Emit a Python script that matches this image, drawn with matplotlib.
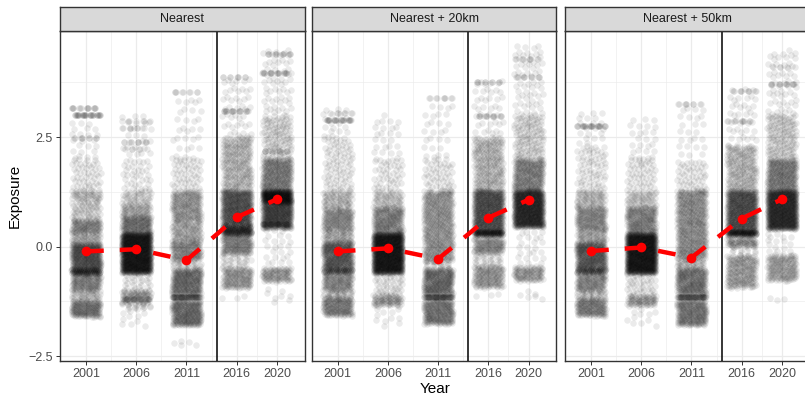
import numpy as np
import matplotlib
matplotlib.use("Agg")
import matplotlib.pyplot as plt

plt.rcParams['font.family'] = ['Liberation Sans', 'DejaVu Sans']

# ---------------- data ----------------
years = [2001, 2006, 2011, 2016, 2020]
panels = ["Nearest", "Nearest + 20km", "Nearest + 50km"]

# mean exposure per year (red points)
mean_nearest = [-0.11, -0.06, -0.31, 0.67, 1.08]
mean_20km = [-0.11, -0.04, -0.28, 0.66, 1.07]
mean_50km = [-0.10, -0.02, -0.25, 0.64, 1.08]

# point clouds: (y_low, y_high, number of points); y_low == y_high is a streak of
# points sharing one value
near_2001 = [(2.0, 2.9, 23), (1.28, 2.0, 50), (3.0, 3.0, 30), (3.17, 3.17, 15),
             (2.48, 2.48, 9), (1.05, 1.28, 43), (0.6, 1.05, 62), (0.3, 0.6, 104),
             (0.07, 0.3, 53), (-0.5, 0.07, 329), (-0.62, -0.5, 111), (-1.0, -0.62, 131),
             (-1.24, -1.0, 44), (-1.6, -1.24, 149)]
near_2006 = [(2.0, 3.0, 26), (1.28, 2.0, 37), (2.87, 2.87, 7), (2.7, 2.7, 7),
             (2.39, 2.39, 9), (2.22, 2.22, 6), (0.98, 1.28, 41), (0.7, 0.98, 65),
             (0.3, 0.7, 166), (-0.6, 0.3, 950), (-1.0, -0.6, 28), (-1.3, -1.0, 83),
             (-1.2, -1.2, 15), (-1.45, -1.3, 14), (-1.86, -1.45, 10)]
near_2011 = [(3.52, 3.52, 9), (2.0, 3.5, 31), (1.28, 2.0, 50), (0.6, 1.28, 188),
             (0.13, 0.6, 109), (-0.32, 0.13, 146), (-0.52, -0.32, 28), (-1.1, -0.52, 250),
             (-1.16, -1.16, 60), (-1.8, -1.22, 250), (-2.27, -2.15, 5)]
near_2016 = [(3.86, 3.86, 9), (3.1, 3.1, 18), (2.5, 3.9, 45), (1.28, 2.5, 230),
             (0.6, 1.28, 377), (0.46, 0.6, 81), (0.28, 0.46, 158), (-0.16, 0.28, 152),
             (-0.48, -0.16, 30), (-0.95, -0.48, 130), (-1.2, -1.1, 3)]
near_2020 = [(4.4, 4.4, 12), (3.97, 3.97, 18), (2.18, 2.18, 9), (3.0, 4.5, 60),
             (2.0, 3.0, 120), (1.28, 2.0, 266), (1.0, 1.28, 330), (0.42, 1.0, 380),
             (0.52, 0.52, 18), (-0.45, 0.4, 25), (-0.8, -0.48, 89), (-1.3, -0.95, 8)]

km20_2001 = [(2.9, 2.9, 24), (3.06, 3.06, 7), (2.5, 3.2, 18), (1.28, 2.5, 85),
             (0.85, 1.28, 79), (0.37, 0.85, 155), (0.1, 0.37, 62), (-0.5, 0.1, 305),
             (-0.6, -0.5, 74), (-1.0, -0.62, 123), (-1.16, -1.0, 29), (-1.58, -1.16, 155)]
km20_2006 = [(2.0, 3.0, 26), (1.28, 2.0, 44), (0.9, 1.28, 61), (0.3, 0.9, 208),
             (-0.6, 0.3, 950), (-1.1, -0.62, 40), (-1.35, -1.1, 70), (-1.85, -1.4, 11)]
km20_2011 = [(3.4, 3.4, 9), (2.0, 3.3, 27), (1.28, 2.0, 50), (-0.35, 1.28, 452),
             (-0.5, -0.35, 14), (-1.1, -0.5, 260), (-1.16, -1.16, 60), (-1.77, -1.22, 215)]
km20_2016 = [(3.75, 3.75, 9), (2.98, 2.98, 12), (2.5, 3.8, 42), (1.28, 2.5, 230),
             (0.3, 1.28, 566), (0.25, 0.35, 88), (-0.15, 0.2, 113), (-0.45, -0.15, 28),
             (-0.94, -0.45, 136), (-1.15, -1.05, 3)]
km20_2020 = [(4.29, 4.29, 9), (3.86, 3.86, 9), (3.0, 4.6, 64), (2.0, 3.0, 120),
             (1.28, 2.0, 250), (0.45, 1.28, 700), (-0.45, 0.37, 25), (-0.78, -0.45, 91),
             (-1.2, -1.0, 6)]

km50_2001 = [(2.75, 2.75, 24), (2.3, 3.1, 20), (1.28, 2.3, 71), (0.9, 1.28, 70),
             (0.4, 0.9, 162), (0.1, 0.4, 70), (-0.5, 0.1, 305), (-0.6, -0.5, 74),
             (-1.0, -0.62, 123), (-1.18, -1.0, 33), (-1.58, -1.18, 148)]
km50_2006 = [(2.0, 3.0, 26), (1.28, 2.0, 50), (0.9, 1.28, 61), (0.3, 0.9, 208),
             (-0.6, 0.3, 950), (-1.1, -0.62, 40), (-1.35, -1.1, 70), (-1.85, -1.4, 11)]
km50_2011 = [(3.26, 3.26, 9), (2.0, 3.2, 25), (1.28, 2.0, 50), (-0.3, 1.28, 475),
             (-0.5, -0.3, 37), (-1.1, -0.5, 240), (-1.16, -1.16, 60), (-1.8, -1.22, 225)]
km50_2016 = [(3.56, 3.56, 9), (2.87, 2.87, 9), (2.3, 3.6, 42), (1.28, 2.3, 190),
             (0.3, 1.28, 566), (0.25, 0.35, 88), (0.0, 0.2, 65), (-0.2, 0.0, 12),
             (-0.94, -0.2, 188)]
km50_2020 = [(3.71, 3.71, 12), (4.09, 4.09, 4), (3.0, 4.5, 60), (2.0, 3.0, 135),
             (1.28, 2.0, 266), (0.4, 1.28, 730), (-0.2, 0.35, 18), (-0.78, -0.2, 148),
             (-1.25, -1.15, 3)]

clouds = [
    [near_2001, near_2006, near_2011, near_2016, near_2020],
    [km20_2001, km20_2006, km20_2011, km20_2016, km20_2020],
    [km50_2001, km50_2006, km50_2011, km50_2016, km50_2020],
]
means = [mean_nearest, mean_20km, mean_50km]
break_year = 2014

# ---------------- layout ----------------
W, H = 805, 398
fig = plt.figure(figsize=(W / 100, H / 100), dpi=100)

panel_left = [60, 311.7, 565]
panel_w = 244.7
top_px, bot_px, strip_top = 31, 361, 7
JIT = 1.45
A1, A2 = 0.7548776662, 0.5698402910   # R2 low-discrepancy sequence (placement only)


def expand(bands, year, seed):
    xs, ys = [], []
    k = seed
    for lo, hi, n in bands:
        for i in range(n):
            k += 1
            u = (0.5 + A1 * k) % 1.0
            v = (0.5 + A2 * k) % 1.0
            y = lo if hi == lo else lo + v * (hi - lo)
            xs.append(year + JIT * (2 * u - 1))
            ys.append(y)
    return xs, ys


grey = '#4D4D4D'
for p, name in enumerate(panels):
    l = panel_left[p] / W
    b = (H - bot_px) / H
    ax = fig.add_axes([l, b, panel_w / W, (bot_px - top_px) / H])
    ax.set_xlim(1998.41, 2022.77)
    ax.set_ylim(-2.61, 4.92)
    ax.set_xticks(years)
    ax.set_xticks([2003.5, 2008.5, 2013.5, 2018], minor=True)
    ax.set_yticks([-2.5, 0, 2.5])
    ax.set_yticks([-1.25, 1.25, 3.75], minor=True)
    ax.grid(which='major', color='#EBEBEB', linewidth=0.9, zorder=0)
    ax.grid(which='minor', color='#EBEBEB', linewidth=0.45, zorder=0)
    ax.set_axisbelow(True)
    ax.tick_params(which='minor', length=0)
    ax.tick_params(which='major', length=3, width=0.7, color='#333333',
                   labelsize=9, labelcolor=grey, pad=2)
    ax.set_xticklabels([str(y) for y in years])
    if p == 0:
        ax.set_yticklabels(['\u22122.5', '0.0', '2.5'])
    else:
        ax.tick_params(axis='y', which='major', left=False, labelleft=False)
    for s in ax.spines.values():
        s.set_color('#333333')
        s.set_linewidth(1.0)

    for j, yr in enumerate(years):
        xs, ys = expand(clouds[p][j], yr, seed=137 * j + 71 * p)
        ax.scatter(xs, ys, s=22, c='black', alpha=0.08, linewidths=0,
                   zorder=2, rasterized=True)

    ax.axvline(break_year, color='black', linewidth=1.1, zorder=3)
    ax.plot(years, means[p], color='#FF0000', linewidth=3.2, dashes=(4, 3.6),
            zorder=4, solid_capstyle='butt', dash_capstyle='butt')
    ax.plot(years, means[p], 'o', color='#FF0000', markersize=7.0, zorder=5,
            markeredgewidth=0)

    # strip
    sax = fig.add_axes([l, (H - top_px) / H, panel_w / W, (top_px - strip_top) / H])
    sax.set_facecolor('#D9D9D9')
    sax.set_xticks([])
    sax.set_yticks([])
    for s in sax.spines.values():
        s.set_color('#333333')
        s.set_linewidth(1.0)
    sax.text(0.5, 0.5, name, ha='center', va='center', fontsize=9,
             color='#1A1A1A', transform=sax.transAxes)

fig.text(15 / W, (H - 196) / H, 'Exposure', rotation=90, ha='center',
         va='center', fontsize=11)
fig.text(435 / W, (H - 389) / H, 'Year', ha='center', va='center', fontsize=11)

fig.savefig('out.png', dpi=100)
